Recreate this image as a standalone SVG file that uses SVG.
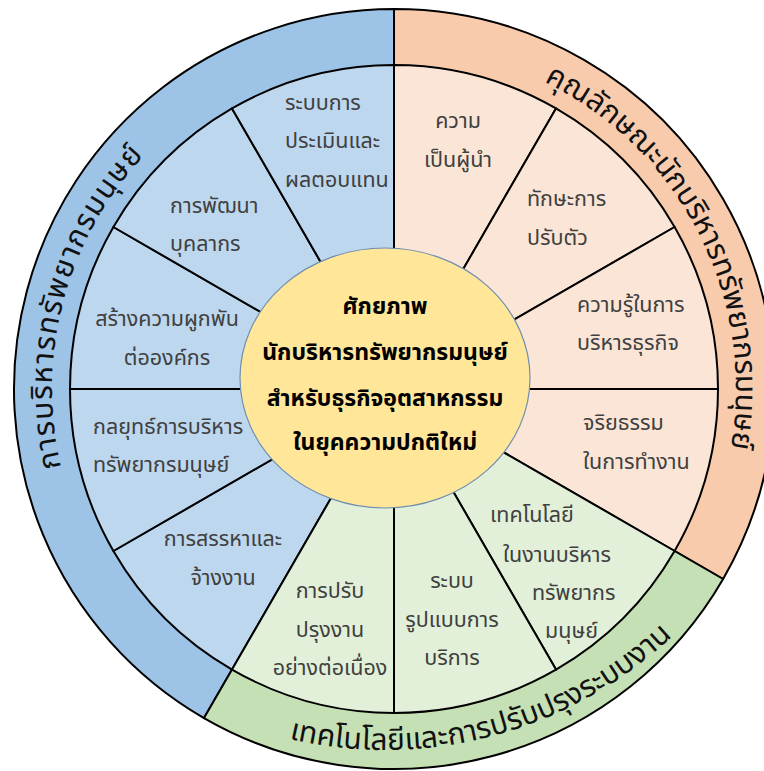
<svg xmlns="http://www.w3.org/2000/svg" width="764" height="771" viewBox="0 0 764 771">
<style>
.ring{stroke:#000;stroke-width:2;stroke-linejoin:round}
.sec{stroke:#000;stroke-width:2;stroke-linejoin:round}
.t{font-family:"Noto Sans Thai","Noto Sans","DejaVu Sans",sans-serif;font-size:21.5px;fill:#404040}
.m{text-anchor:middle}
.c{font-family:"Noto Sans Thai","Noto Sans","DejaVu Sans",sans-serif;font-size:23px;font-weight:bold;fill:#000;text-anchor:middle}
.r{font-family:"Noto Sans Thai","Noto Sans","DejaVu Sans",sans-serif;font-size:30px;fill:#111}
</style>
<defs>
<path id="pb" d="M223,685.2 A342,342 0 0 1 394,47"/>
<path id="pp" d="M411.9,47.5 A342,342 0 0 1 680.8,575.3"/>
<path id="pg" d="M175,693.7 A420,420 0 0 0 748.7,540"/>
</defs>
<g id="outer-ring">
<path class="ring" fill="#9dc3e6" d="M394,389 L204,718.1 A380,380 0 0 1 394,9 Z"/>
<path class="ring" fill="#f8cbad" d="M394,389 L394,9 A380,380 0 0 1 723.1,579 Z"/>
<path class="ring" fill="#c5e0b4" d="M394,389 L723.1,579 A380,380 0 0 1 204,718.1 Z"/>
</g>
<g id="connectors">
<path class="sec" fill="#bdd7ee" d="M394,389 L232,669.6 A324,324 0 0 1 113.4,551 Z"/>
<path class="sec" fill="#bdd7ee" d="M394,389 L113.4,551 A324,324 0 0 1 70,389 Z"/>
<path class="sec" fill="#bdd7ee" d="M394,389 L70,389 A324,324 0 0 1 113.4,227 Z"/>
<path class="sec" fill="#bdd7ee" d="M394,389 L113.4,227 A324,324 0 0 1 232,108.4 Z"/>
<path class="sec" fill="#bdd7ee" d="M394,389 L232,108.4 A324,324 0 0 1 394,65 Z"/>
<path class="sec" fill="#fbe5d6" d="M394,389 L394,65 A324,324 0 0 1 556,108.4 Z"/>
<path class="sec" fill="#fbe5d6" d="M394,389 L556,108.4 A324,324 0 0 1 674.6,227 Z"/>
<path class="sec" fill="#fbe5d6" d="M394,389 L674.6,227 A324,324 0 0 1 718,389 Z"/>
<path class="sec" fill="#fbe5d6" d="M394,389 L718,389 A324,324 0 0 1 674.6,551 Z"/>
<path class="sec" fill="#e2f0d9" d="M394,389 L674.6,551 A324,324 0 0 1 556,669.6 Z"/>
<path class="sec" fill="#e2f0d9" d="M394,389 L556,669.6 A324,324 0 0 1 394,713 Z"/>
<path class="sec" fill="#e2f0d9" d="M394,389 L394,713 A324,324 0 0 1 232,669.6 Z"/>
</g>
<g id="ring-labels">
<text class="r" letter-spacing="1.3"><textPath href="#pb" startOffset="50%" text-anchor="middle">การบริหารทรัพยากรมนุษย์</textPath></text>
<text class="r"><textPath href="#pp" startOffset="50%" text-anchor="middle">คุณลักษณะนักบริหารทรัพยากรมนุษย์</textPath></text>
<text class="r" font-size="28"><textPath href="#pg" startOffset="50%" text-anchor="middle">เทคโนโลยีและการปรับปรุงระบบงาน</textPath></text>
</g>
<g id="blue-1"><text class="t" x="285" y="110">ระบบการ</text><text class="t" x="285" y="148">ประเมินและ</text><text class="t" x="285" y="187">ผลตอบแทน</text></g>
<g id="blue-2"><text class="t" x="170" y="213">การพัฒนา</text><text class="t" x="170" y="251">บุคลากร</text></g>
<g id="blue-3"><text class="t m" x="167" y="326">สร้างความผูกพัน</text><text class="t m" x="167" y="365">ต่อองค์กร</text></g>
<g id="blue-4"><text class="t" x="93" y="434">กลยุทธ์การบริหาร</text><text class="t" x="93" y="472">ทรัพยากรมนุษย์</text></g>
<g id="blue-5"><text class="t m" x="223" y="546">การสรรหาและ</text><text class="t m" x="223" y="585">จ้างงาน</text></g>
<g id="peach-1"><text class="t m" x="458" y="128">ความ</text><text class="t m" x="458" y="167">เป็นผู้นำ</text></g>
<g id="peach-2"><text class="t" x="527" y="206">ทักษะการ</text><text class="t" x="527" y="245">ปรับตัว</text></g>
<g id="peach-3"><text class="t" x="577" y="312">ความรู้ในการ</text><text class="t" x="577" y="350">บริหารธุรกิจ</text></g>
<g id="peach-4"><text class="t" x="583" y="430">จริยธรรม</text><text class="t" x="583" y="469">ในการทำงาน</text></g>
<g id="green-1"><text class="t" x="490" y="522">เทคโนโลยี</text><text class="t" x="503" y="562">ในงานบริหาร</text><text class="t" x="532" y="600">ทรัพยากร</text><text class="t" x="545" y="638">มนุษย์</text></g>
<g id="green-2"><text class="t m" x="452" y="588">ระบบ</text><text class="t m" x="452" y="627">รูปแบบการ</text><text class="t m" x="452" y="665">บริการ</text></g>
<g id="green-3"><text class="t m" x="330" y="598">การปรับ</text><text class="t m" x="330" y="637">ปรุงงาน</text><text class="t m" x="330" y="675">อย่างต่อเนื่อง</text></g>
<g id="center">
<ellipse cx="385" cy="378" rx="145" ry="130" fill="#ffe699" stroke="#6f8fb0" stroke-width="1.2"/>
<text class="c" x="385" y="314">ศักยภาพ</text>
<text class="c" x="385" y="360">นักบริหารทรัพยากรมนุษย์</text>
<text class="c" x="385" y="406">สำหรับธุรกิจอุตสาหกรรม</text>
<text class="c" x="385" y="450">ในยุคความปกติใหม่</text>
</g>
</svg>
